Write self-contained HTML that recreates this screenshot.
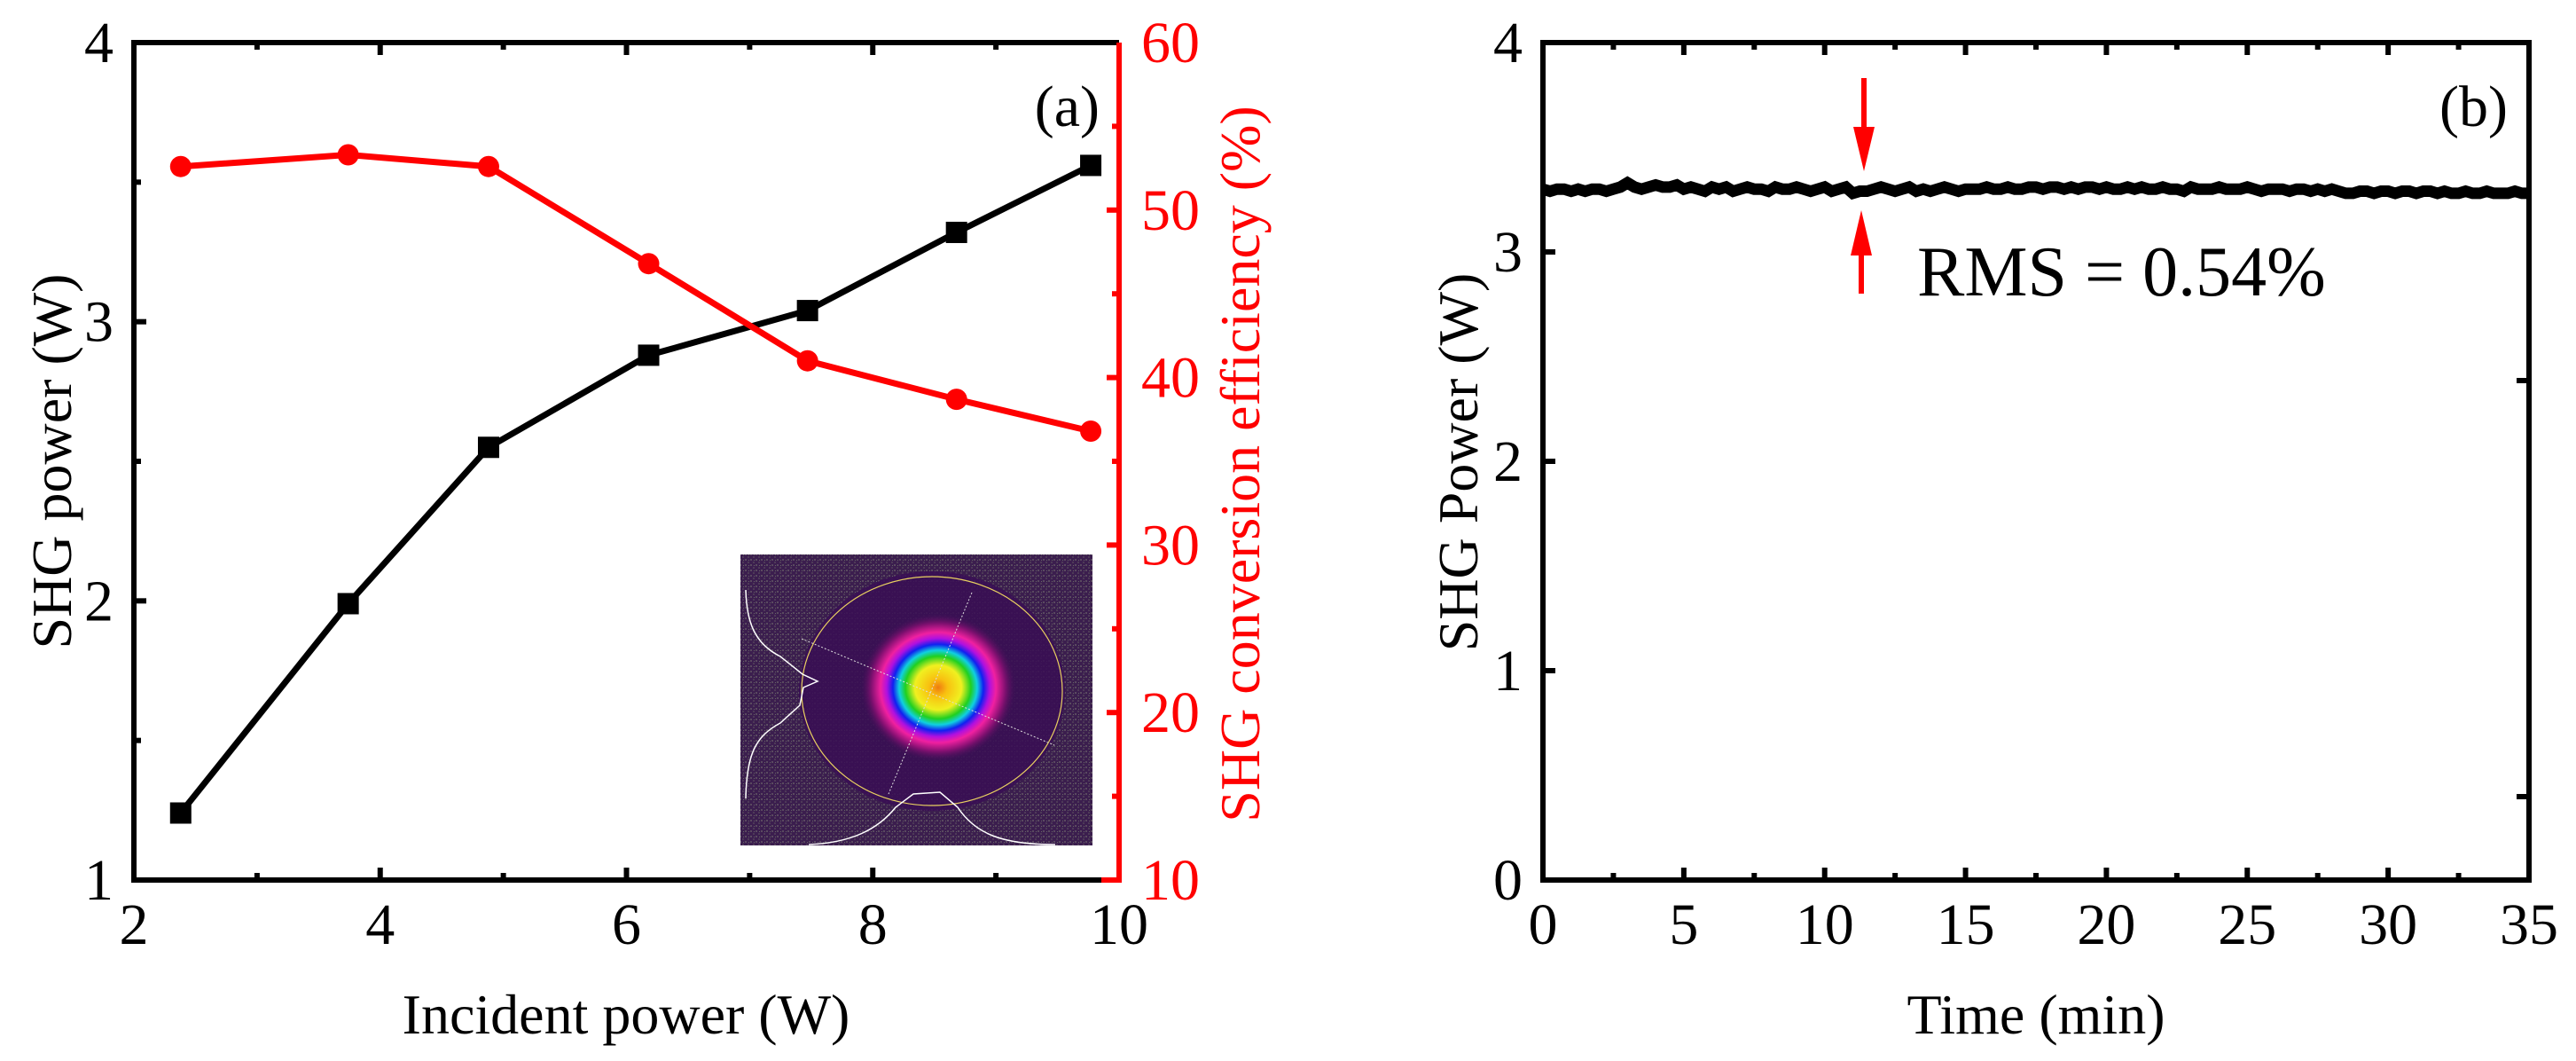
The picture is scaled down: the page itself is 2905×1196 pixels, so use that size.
<!DOCTYPE html>
<html><head><meta charset="utf-8"><style>
html,body{margin:0;padding:0;background:#fff;}
svg{display:block;font-family:"Liberation Serif",serif;}
</style></head><body>
<svg id="fig" width="2905" height="1196" viewBox="0 0 2905 1196" xmlns="http://www.w3.org/2000/svg">
<defs>
<radialGradient id="beam" cx="0.5" cy="0.5" r="0.5">
<stop offset="0" stop-color="#f07a10"/>
<stop offset="0.12" stop-color="#f8c010"/>
<stop offset="0.3" stop-color="#f0f020"/>
<stop offset="0.42" stop-color="#20d020"/>
<stop offset="0.5" stop-color="#10d0e0"/>
<stop offset="0.58" stop-color="#1020f0"/>
<stop offset="0.66" stop-color="#b010e0"/>
<stop offset="0.74" stop-color="#f020a0"/>
<stop offset="0.86" stop-color="#801070"/>
<stop offset="1" stop-color="#3a0e55" stop-opacity="0"/>
</radialGradient>
<pattern id="noise" width="6" height="6" patternUnits="userSpaceOnUse">
<rect width="6" height="6" fill="#3b1e4e"/>
<rect x="0" y="0" width="2" height="2" fill="#5a4a60"/>
<rect x="3" y="3" width="2" height="2" fill="#4e3a58"/>
<rect x="4" y="1" width="1" height="1" fill="#666"/>
</pattern>
</defs>
<g id="pa"></g>
<g id="pb"></g>
</svg>
<script>
// Panel (a) data
const incidentPower = [2.38, 3.74, 4.88, 6.18, 7.47, 8.68, 9.77];
const shgPower = [1.24, 1.99, 2.55, 2.88, 3.04, 3.32, 3.56];
const efficiency = [52.6, 53.3, 52.6, 46.8, 41.0, 38.7, 36.8];
const xTicksA = [2, 4, 6, 8, 10];
const yTicksA = [1, 2, 3, 4];
const y2TicksA = [10, 20, 30, 40, 50, 60];
// Panel (b) data (SHG power vs time, every 0.25 min)
const timeStep = 0.25;
const stability = [3.30,3.29,3.30,3.30,3.29,3.30,3.29,3.30,3.30,3.29,3.30,3.31,3.33,3.31,3.30,3.31,3.32,3.31,3.31,3.32,3.30,3.31,3.30,3.29,3.31,3.30,3.31,3.29,3.30,3.31,3.30,3.30,3.29,3.31,3.30,3.30,3.31,3.30,3.29,3.30,3.31,3.29,3.30,3.31,3.28,3.29,3.29,3.30,3.31,3.30,3.29,3.30,3.31,3.29,3.30,3.29,3.30,3.31,3.30,3.29,3.30,3.30,3.30,3.31,3.30,3.30,3.31,3.30,3.30,3.31,3.31,3.30,3.31,3.31,3.30,3.31,3.30,3.31,3.31,3.30,3.31,3.30,3.30,3.31,3.30,3.31,3.30,3.30,3.31,3.30,3.30,3.29,3.31,3.30,3.30,3.30,3.31,3.30,3.30,3.30,3.31,3.30,3.29,3.30,3.30,3.30,3.29,3.30,3.30,3.29,3.30,3.29,3.30,3.29,3.28,3.28,3.29,3.29,3.28,3.29,3.29,3.28,3.29,3.29,3.28,3.29,3.29,3.28,3.29,3.28,3.28,3.29,3.28,3.28,3.29,3.28,3.28,3.28,3.29,3.28,3.28];
const xTicksB = [0, 5, 10, 15, 20, 25, 30, 35];
const yTicksB = [0, 1, 2, 3, 4];

const NS = "http://www.w3.org/2000/svg";
function mk(parent, tag, attrs, text) {
  const e = document.createElementNS(NS, tag);
  for (const k in attrs) e.setAttribute(k, attrs[k]);
  if (text !== undefined) e.textContent = text;
  parent.appendChild(e);
  return e;
}
const TICKFS = 66;

// ---------- Panel A ----------
const pa = document.getElementById('pa');
const AL = 151, AR = 1262, AT = 48, AB = 992;
const xA = v => AL + (v - 2) / 8 * (AR - AL);
const yA = v => AB - (v - 1) / 3 * (AB - AT);
const y2A = v => AB - (v - 10) / 50 * (AB - AT);

// inset image
const inset = mk(pa, 'g', {});


mk(inset, 'rect', {x: 835, y: 625, width: 397, height: 328, fill: 'url(#noise)'});
mk(inset, 'ellipse', {cx: 1051, cy: 779, rx: 150, ry: 135, fill: '#3a0e55', opacity: 0.85});
mk(inset, 'ellipse', {cx: 1058, cy: 775, rx: 88, ry: 84, fill: 'url(#beam)'});
mk(inset, 'ellipse', {cx: 1051, cy: 779, rx: 147, ry: 129, fill: 'none', stroke: '#e8d060', 'stroke-width': 1.2});
mk(inset, 'line', {x1: 904, y1: 720, x2: 1189, y2: 840, stroke: '#ddd', 'stroke-width': 1, 'stroke-dasharray': '2 2'});
mk(inset, 'line', {x1: 1096, y1: 668, x2: 1002, y2: 895, stroke: '#ddd', 'stroke-width': 1, 'stroke-dasharray': '2 2'});
mk(inset, 'path', {d: 'M841 665 C842 700 850 725 880 740 L905 760 L922 768 L906 775 L902 795 L880 815 C852 830 842 850 841 900', fill: 'none', stroke: '#fff', 'stroke-width': 1.5});
mk(inset, 'path', {d: 'M912 952 C960 950 990 935 1010 910 L1030 895 L1060 893 L1080 910 C1100 940 1130 952 1190 952', fill: 'none', stroke: '#fff', 'stroke-width': 1.5});

// ticks panel A
for (let v = 2; v <= 10; v += 1) {
  const x = xA(v), len = (v % 2 === 0) ? 14 : 8;
  mk(pa, 'line', {x1: x, y1: AB, x2: x, y2: AB - len, stroke: '#000', 'stroke-width': 6});
  mk(pa, 'line', {x1: x, y1: AT, x2: x, y2: AT + len, stroke: '#000', 'stroke-width': 6});
}
for (let v = 1; v <= 4; v += 0.5) {
  const len = (v % 1 === 0) ? 14 : 8;
  mk(pa, 'line', {x1: AL, y1: yA(v), x2: AL + len, y2: yA(v), stroke: '#000', 'stroke-width': 6});
}
for (let v = 10; v <= 60; v += 5) {
  const len = (v % 10 === 0) ? 14 : 8;
  mk(pa, 'line', {x1: AR, y1: y2A(v), x2: AR - len, y2: y2A(v), stroke: '#f00', 'stroke-width': 6});
}
// frame
mk(pa, 'path', {d: `M${AR} ${AT} L${AL} ${AT} L${AL} ${AB} L${AR - 20} ${AB}`, fill: 'none', stroke: '#000', 'stroke-width': 6});
mk(pa, 'path', {d: `M${AR - 20} ${AB} L${AR} ${AB} L${AR} ${AT}`, fill: 'none', stroke: '#f00', 'stroke-width': 6});

// tick labels
xTicksA.forEach(v => {
  const t = mk(pa, 'text', {x: xA(v), y: 1064, 'font-size': TICKFS, 'text-anchor': 'middle'}, v);
  
  
});
yTicksA.forEach(v => {
  const t = mk(pa, 'text', {x: 128, y: yA(v) + 22, 'font-size': TICKFS, 'text-anchor': 'end'}, v);
  
  
});
y2TicksA.forEach(v => {
  const t = mk(pa, 'text', {x: 1287, y: y2A(v) + 22, 'font-size': TICKFS, fill: '#f00'}, v);
  
  
});

// series
const blackPts = incidentPower.map((v, i) => `${xA(v)},${yA(shgPower[i])}`).join(' ');
const bl = mk(pa, 'polyline', {points: blackPts, fill: 'none', stroke: '#000', 'stroke-width': 7});


const redPts = incidentPower.map((v, i) => `${xA(v)},${y2A(efficiency[i])}`).join(' ');
const rl = mk(pa, 'polyline', {points: redPts, fill: 'none', stroke: '#f00', 'stroke-width': 7});


incidentPower.forEach((v, i) => {
  const s = mk(pa, 'rect', {x: xA(v) - 12, y: yA(shgPower[i]) - 12, width: 24, height: 24, fill: '#000'});
  
  
  const c = mk(pa, 'circle', {cx: xA(v), cy: y2A(efficiency[i]), r: 12, fill: '#f00'});
  
  
});

// titles
let t;
t = mk(pa, 'text', {x: 1240, y: 142, 'font-size': 66, 'text-anchor': 'end'}, '(a)');


t = mk(pa, 'text', {x: 706, y: 1165, 'font-size': 64, 'text-anchor': 'middle'}, 'Incident power (W)');


t = mk(pa, 'text', {x: 0, y: 0, 'font-size': 64, 'text-anchor': 'middle', transform: 'translate(80,520) rotate(-90)'}, 'SHG power (W)');


t = mk(pa, 'text', {x: 0, y: 0, 'font-size': 64, 'text-anchor': 'middle', fill: '#f00', transform: 'translate(1420,523) rotate(-90)'}, 'SHG conversion efficiency (%)');



// ---------- Panel B ----------
const pb = document.getElementById('pb');
const BL = 1740, BR = 2852, BT = 48, BB = 992;
const xB = v => BL + v / 35 * (BR - BL);
const yB = v => BB - v / 4 * (BB - BT);
for (let v = 0; v <= 35; v += 2.5) {
  const len = (v % 5 === 0) ? 14 : 8;
  mk(pb, 'line', {x1: xB(v), y1: BB, x2: xB(v), y2: BB - len, stroke: '#000', 'stroke-width': 6});
  mk(pb, 'line', {x1: xB(v), y1: BT, x2: xB(v), y2: BT + len, stroke: '#000', 'stroke-width': 6});
}
yTicksB.forEach(v => {
  mk(pb, 'line', {x1: BL, y1: yB(v), x2: BL + 14, y2: yB(v), stroke: '#000', 'stroke-width': 6});
});
[429, 898].forEach(y => mk(pb, 'line', {x1: BR, y1: y, x2: BR - 14, y2: y, stroke: '#000', 'stroke-width': 6}));
mk(pb, 'rect', {x: BL, y: BT, width: BR - BL, height: BB - BT, fill: 'none', stroke: '#000', 'stroke-width': 6});

xTicksB.forEach(v => {
  const tt = mk(pb, 'text', {x: xB(v), y: 1064, 'font-size': TICKFS, 'text-anchor': 'middle'}, v);
  
  
});
yTicksB.forEach(v => {
  const tt = mk(pb, 'text', {x: 1717, y: yB(v) + 22, 'font-size': TICKFS, 'text-anchor': 'end'}, v);
  
  
});

const stabPts = stability.map((v, i) => `${xB(i * timeStep)},${yB(v)}`).join(' ');
const sl = mk(pb, 'polyline', {points: stabPts, fill: 'none', stroke: '#000', 'stroke-width': 13, 'stroke-linejoin': 'miter'});



// arrows
const ad = mk(pb, 'g', {});


mk(ad, 'rect', {x: 2099, y: 88, width: 6, height: 56, fill: '#f00'});
mk(ad, 'polygon', {points: '2090,143 2114,143 2102,193', fill: '#f00'});
const au = mk(pb, 'g', {});


mk(au, 'rect', {x: 2096, y: 287, width: 6, height: 44, fill: '#f00'});
mk(au, 'polygon', {points: '2087,288 2111,288 2099,237', fill: '#f00'});

t = mk(pb, 'text', {x: 2162, y: 333, 'font-size': 80}, 'RMS = 0.54%');


t = mk(pb, 'text', {x: 2828, y: 142, 'font-size': 66, 'text-anchor': 'end'}, '(b)');


t = mk(pb, 'text', {x: 2296, y: 1165, 'font-size': 64, 'text-anchor': 'middle'}, 'Time (min)');


t = mk(pb, 'text', {x: 0, y: 0, 'font-size': 64, 'text-anchor': 'middle', transform: 'translate(1666,521) rotate(-90)'}, 'SHG Power (W)');


</script>
</body></html>
